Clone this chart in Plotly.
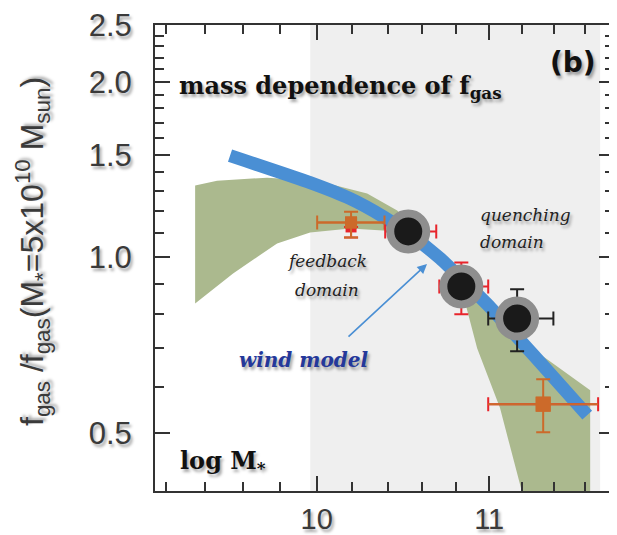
import numpy as np
import plotly.graph_objects as go

# ---------------- data ----------------
# wind model curve (blue band)
blue_x = [9.533, 9.964, 10.187, 10.374, 10.530, 10.706, 10.855, 11.007, 11.190, 11.364, 11.612]
blue_y = [1.494, 1.343, 1.261, 1.175, 1.095, 0.996, 0.906, 0.821, 0.721, 0.638, 0.537]

# green uncertainty envelope (upper edge left->right, then lower edge right->left)
band_x = [9.351, 9.465, 9.730, 10.003, 10.283, 10.455, 10.647, 10.885, 11.097, 11.190, 11.408, 11.631,
          11.631, 11.208, 11.066, 10.927, 10.867, 10.838, 10.706, 10.530, 10.374, 10.187, 9.964, 9.784, 9.549, 9.351]
band_y = [1.328, 1.354, 1.370, 1.354, 1.287, 1.203, 1.060, 0.895, 0.770, 0.722, 0.654, 0.592,
          0.39, 0.39, 0.552, 0.699, 0.812, 0.878, 1.004, 1.086, 1.112, 1.121, 1.103, 1.057, 0.939, 0.834]

# quenching domain (shaded region) limits in log M*
quench_x0 = 9.965
quench_x1 = 11.695

# black circles (stacked measurements)
circ_x = [10.519, 10.832, 11.171]
circ_y = [1.108, 0.892, 0.786]
circ_xerr_minus = [0.133, 0.131, 0.177]
circ_xerr_plus = [0.164, 0.162, 0.226]
circ_yerr_minus = [0.0, 0.093, 0.095]
circ_yerr_plus = [0.0, 0.088, 0.096]

# orange squares
sq_x = [10.192, 11.333]
sq_y = [1.148, 0.5606]
sq_xerr_minus = [0.189, 0.339]
sq_xerr_plus = [0.19, 0.349]
sq_yerr_minus = [0.066, 0.059]
sq_yerr_plus = [0.050, 0.058]

# red partially hidden point under first square
red_x = [10.192]
red_y = [1.128]
red_yerr_minus = [0.046]

# axes
x_major = [10, 11]
x_major_text = ["10", "11"]
x_minor = [9.2, 9.4, 9.6, 9.8, 10.2, 10.4, 10.6, 10.8, 11.2, 11.4, 11.6]
y_major = [0.5, 1.0, 1.5, 2.0, 2.5]
y_major_text = ["0.5", "1.0", "1.5", "2.0", "2.5"]
y_minor = [0.6, 0.7, 0.8, 0.9, 1.1, 1.2, 1.3, 1.4, 1.6, 1.7, 1.8, 1.9, 2.1, 2.2, 2.3, 2.4]
x_range = [9.146, 11.785]
y_range = [0.398, 2.502]

# ---------------- style ----------------
OFF = 8  # page body margin
W, H = 617 - OFF, 535 - OFF
ML, MT = 155 - OFF, 25 - OFF
PW, PH = 459, 466
MR = W - ML - PW
MB = H - MT - PH
GREEN = "#abb98e"
BLUE = "#4a8fd4"
ORANGE = "#cc6a2a"
RED = "#e8242b"
SHADOW = "2px 3px 3px rgba(0,0,0,0.35)"
circ_err_colors = [RED, RED, "#222222"]

def px(x):
    return (x - OFF - ML) / PW
def py(y):
    return (MT + OFF + PH - y) / PH

fig = go.Figure()

# shaded quenching domain
fig.add_trace(go.Scatter(
    x=[quench_x0, quench_x1, quench_x1, quench_x0, quench_x0],
    y=[0.3, 0.3, 3.0, 3.0, 0.3],
    fill="toself", fillcolor="#efefef", line=dict(width=0),
    mode="lines", hoverinfo="skip", showlegend=False))

# green envelope
fig.add_trace(go.Scatter(
    x=band_x, y=band_y, fill="toself", fillcolor=GREEN,
    line=dict(width=0), mode="lines", hoverinfo="skip", showlegend=False))

# blue wind model
fig.add_trace(go.Scatter(
    x=blue_x, y=blue_y, mode="lines",
    line=dict(color=BLUE, width=13, shape="spline", smoothing=0.5),
    showlegend=False))

# red hidden point
fig.add_trace(go.Scatter(
    x=red_x, y=red_y, mode="markers",
    marker=dict(symbol="square", size=11, color=RED),
    error_y=dict(type="data", symmetric=False, array=[0], arrayminus=red_yerr_minus,
                 color=RED, thickness=2, width=7),
    showlegend=False))

# orange squares: red caps on horizontal bars for second one
for i in range(len(sq_x)):
    capcol = ORANGE if i == 0 else RED
    fig.add_trace(go.Scatter(
        x=[sq_x[i]], y=[sq_y[i]], mode="markers",
        marker=dict(symbol="square", size=12 if i == 0 else 15, color=ORANGE),
        error_x=dict(type="data", symmetric=False, array=[sq_xerr_plus[i]],
                     arrayminus=[sq_xerr_minus[i]], color=capcol, thickness=2, width=7),
        error_y=dict(type="data", symmetric=False, array=[sq_yerr_plus[i]],
                     arrayminus=[sq_yerr_minus[i]], color=ORANGE, thickness=2, width=7),
        showlegend=False))
    fig.add_trace(go.Scatter(
        x=[sq_x[i]], y=[sq_y[i]], mode="markers",
        marker=dict(symbol="square", size=12 if i == 0 else 15, color=ORANGE),
        error_x=dict(type="data", symmetric=False, array=[sq_xerr_plus[i]],
                     arrayminus=[sq_xerr_minus[i]], color=ORANGE, thickness=2, width=0),
        showlegend=False))

# black circles with grey rings
for i in range(len(circ_x)):
    fig.add_trace(go.Scatter(
        x=[circ_x[i]], y=[circ_y[i]], mode="markers",
        marker=dict(size=36, color="#1a1a1a", line=dict(color="#8e8e8e", width=8)),
        error_x=dict(type="data", symmetric=False, array=[circ_xerr_plus[i]],
                     arrayminus=[circ_xerr_minus[i]], color=circ_err_colors[i], thickness=2, width=7),
        error_y=dict(type="data", symmetric=False, array=[circ_yerr_plus[i]],
                     arrayminus=[circ_yerr_minus[i]], color=circ_err_colors[i], thickness=2, width=7),
        showlegend=False))

axis_common = dict(
    showline=True, linecolor="#333333", linewidth=2, mirror="ticks",
    ticks="inside", ticklen=15, tickwidth=2, tickcolor="#333333",
    showgrid=False, zeroline=False, automargin=False,
)

fig.update_xaxes(type="log", range=[np.log10(x_range[0]), np.log10(x_range[1])],
                 tickmode="array", tickvals=x_major, ticktext=x_major_text,
                 minor=dict(tickvals=x_minor, ticks="inside", ticklen=9, tickwidth=2, tickcolor="#333333"),
                 tickfont=dict(family="Liberation Sans, Arial", size=29, color="#3a3a3a", shadow=SHADOW),
                 ticklabelstandoff=1, **axis_common)
fig.update_yaxes(type="log", range=[np.log10(y_range[0]), np.log10(y_range[1])],
                 tickmode="array", tickvals=y_major, ticktext=y_major_text,
                 minor=dict(tickvals=y_minor, ticks="inside", ticklen=9, tickwidth=2, tickcolor="#333333"),
                 tickfont=dict(family="Liberation Sans, Arial", size=31, color="#3a3a3a", shadow=SHADOW),
                 ticklabelstandoff=15, **axis_common)

serif = "DejaVu Serif"
ann = []
ann.append(dict(x=px(177), y=py(87), xanchor="left", yanchor="middle",
                text="<b>mass dependence of f<sub>gas</sub></b>",
                font=dict(family=serif, size=24, color="#111111", shadow=SHADOW)))
ann.append(dict(x=px(573), y=py(62), xanchor="center", yanchor="middle",
                text="<b>(b)</b>",
                font=dict(family="DejaVu Sans", size=28, color="#111111", shadow=SHADOW)))
ann.append(dict(x=px(478), y=py(215), xanchor="left", yanchor="middle",
                text="<i>quenching</i>",
                font=dict(family=serif, size=17, color="#222222", shadow=SHADOW)))
ann.append(dict(x=px(478), y=py(242), xanchor="left", yanchor="middle",
                text="<i>domain</i>",
                font=dict(family=serif, size=17, color="#222222", shadow=SHADOW)))
ann.append(dict(x=px(327), y=py(261), xanchor="center", yanchor="middle",
                text="<i>feedback</i>",
                font=dict(family=serif, size=17, color="#222222", shadow=SHADOW)))
ann.append(dict(x=px(327), y=py(290), xanchor="center", yanchor="middle",
                text="<i>domain</i>",
                font=dict(family=serif, size=17, color="#222222", shadow=SHADOW)))
ann.append(dict(x=px(304), y=py(360), xanchor="center", yanchor="middle",
                text="<b><i>wind model</i></b>",
                font=dict(family=serif, size=20, color="#24389a", shadow=SHADOW)))
ann.append(dict(x=px(178), y=py(462), xanchor="left", yanchor="middle",
                text="<b>log M<sub>*</sub></b>",
                font=dict(family=serif, size=24, color="#111111", shadow=SHADOW)))
ann.append(dict(x=px(33), y=py(252), xanchor="center", yanchor="middle", textangle=-90,
                text="f<sub>gas</sub> /f<sub>gas</sub>(M<sub>*</sub>=5x10<sup>10</sup> M<sub>sun</sub>)",
                font=dict(family="Liberation Sans, Arial", size=32, color="#3a3a3a", shadow=SHADOW)))
# arrow from "wind model" to the curve
ann.append(dict(x=px(427), y=py(264), text="", showarrow=True,
                ax=347 - 427, ay=338 - 264, axref="pixel", ayref="pixel",
                arrowhead=2, arrowsize=1.2, arrowwidth=1.6, arrowcolor=BLUE))
for a in ann:
    a.setdefault("xref", "paper")
    a.setdefault("yref", "paper")
    a.setdefault("showarrow", False)
fig.update_layout(annotations=ann)

fig.update_layout(width=W, height=H, margin=dict(l=ML, r=MR, t=MT, b=MB, autoexpand=False),
                  plot_bgcolor="white", paper_bgcolor="white", showlegend=False)

fig.write_html("out.html")
